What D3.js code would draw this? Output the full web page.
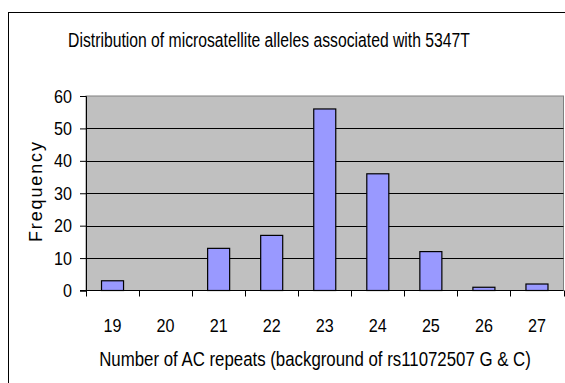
<!DOCTYPE html>
<html>
<head>
<meta charset="utf-8">
<script src="https://cdn.jsdelivr.net/npm/d3@7"></script>
<style>
  body { margin: 0; background: #fff; }
  text { font-family: "Liberation Sans", Arial, sans-serif; fill: #000; }
</style>
</head>
<body>
<svg id="chart" width="565" height="383"></svg>
<script>
// data
const repeats = ["19", "20", "21", "22", "23", "24", "25", "26", "27"];
const frequency = [3, 0, 13, 17, 56, 36, 12, 1, 2];
const yTicks = [0, 10, 20, 30, 40, 50, 60];

const plot = {left: 86, right: 563.5, top: 96, bottom: 290.5};
const narrow = 0.85; // the original font is condensed

const svg = d3.select("#chart");

// squeeze a text horizontally around its anchor point so it fits a width
var squeeze = function(sel, cx, cy, w) {
    const natural = sel.node().getComputedTextLength();
    const sx = w ? w / natural : narrow;
    sel.attr("transform", `translate(${cx},${cy}) scale(${sx},1)`);
};

// outer chart border
svg.append("rect")
    .attr("x", 8.5).attr("y", 12.5)
    .attr("width", 600).attr("height", 400)
    .attr("fill", "white")
    .attr("stroke", "black")
    .attr("stroke-width", 1);

const x = d3.scaleBand()
    .domain(repeats)
    .range([plot.left, plot.right])
    .paddingInner(0.585)
    .paddingOuter(0.2925);

const band = d3.scaleBand().domain(repeats).range([plot.left, plot.right]);

const y = d3.scaleLinear()
    .domain([0, 60])
    .range([plot.bottom, plot.top]);

// plot area
svg.append("rect")
    .attr("x", plot.left).attr("y", plot.top)
    .attr("width", plot.right - plot.left)
    .attr("height", plot.bottom - plot.top)
    .attr("fill", "#c0c0c0")
    .attr("stroke", "#808080")
    .attr("stroke-width", 1);

// gridlines
svg.append("g")
    .selectAll("line")
    .data(yTicks.filter(d => d > 0 && d < 60))
    .enter()
    .append("line")
    .attr("x1", plot.left).attr("x2", plot.right)
    .attr("y1", d => Math.round(y(d)) + 0.5)
    .attr("y2", d => Math.round(y(d)) + 0.5)
    .attr("stroke", "black");

// bars
svg.append("g")
    .selectAll("rect")
    .data(repeats.map((r, i) => ({r: r, v: frequency[i]})).filter(d => d.v > 0))
    .enter()
    .append("rect")
    .attr("x", d => x(d.r))
    .attr("y", d => y(d.v))
    .attr("width", x.bandwidth())
    .attr("height", d => y(0) - y(d.v))
    .attr("fill", "#9999ff")
    .attr("stroke", "black")
    .attr("stroke-width", 1.2);

// y axis
const yAxis = svg.append("g")
    .attr("transform", `translate(${plot.left},0)`)
    .call(d3.axisLeft(y).tickValues(yTicks).tickSize(6).tickPadding(8));
yAxis.select(".domain").attr("stroke", "black");
yAxis.selectAll("text")
    .style("font-size", "19px")
    .attr("fill", "black")
    .attr("transform", `scale(${narrow},1)`)
    .attr("x", -14 / narrow);

// x axis: ticks between categories
const xAxis = svg.append("g")
    .attr("transform", `translate(0,${plot.bottom})`);
xAxis.append("line")
    .attr("x1", plot.left - 6).attr("x2", plot.right)
    .attr("stroke", "black");
xAxis.selectAll("line.tick")
    .data(repeats.map(r => band(r)).concat([plot.right]))
    .enter()
    .append("line")
    .attr("class", "tick")
    .attr("x1", d => Math.round(d) + 0.5).attr("x2", d => Math.round(d) + 0.5)
    .attr("y1", 0).attr("y2", 6)
    .attr("stroke", "black");
xAxis.selectAll("text")
    .data(repeats)
    .enter()
    .append("text")
    .attr("text-anchor", "middle")
    .style("font-size", "19px")
    .text(d => d)
    .attr("transform", d => `translate(${band(d) + band.bandwidth() / 2},41) scale(${narrow},1)`);

// titles
const title = svg.append("text")
    .attr("text-anchor", "middle")
    .style("font-size", "19.5px")
    .text("Distribution of microsatellite alleles associated with 5347T");
squeeze(title, 269, 47, 402);

const xTitle = svg.append("text")
    .attr("text-anchor", "middle")
    .style("font-size", "19.5px")
    .text("Number of AC repeats (background of rs11072507 G & C)");
squeeze(xTitle, 315, 366, 432);

svg.append("text")
    .attr("transform", "translate(42,192) rotate(-90)")
    .attr("text-anchor", "middle")
    .attr("textLength", 100)
    .attr("lengthAdjust", "spacing")
    .style("font-size", "18px")
    .text("Frequency");
</script>
</body>
</html>
